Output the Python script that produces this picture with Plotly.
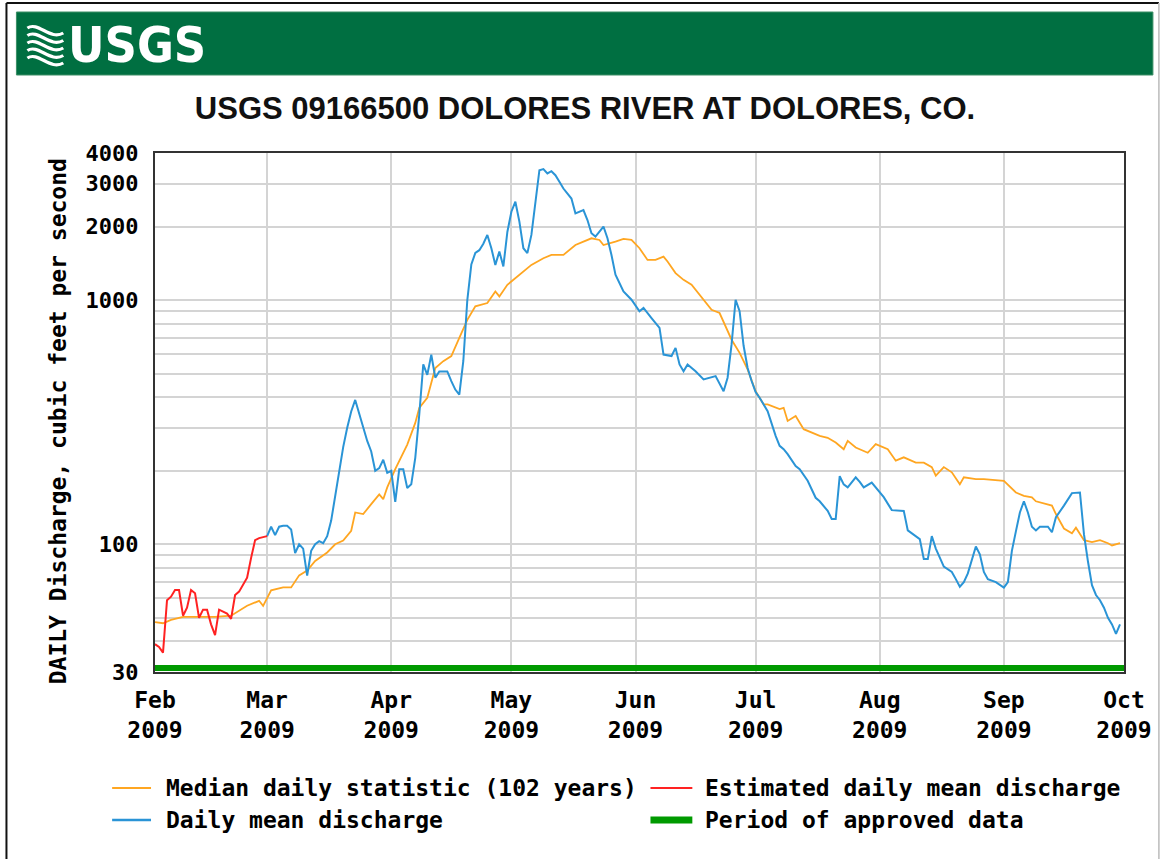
import plotly.graph_objects as go

# ---------------- data ----------------
median_dates = ["2009-02-01","2009-02-03","2009-02-05","2009-02-08","2009-02-11","2009-02-16","2009-02-20",
    "2009-02-24","2009-02-27","2009-02-28","2009-03-02","2009-03-05","2009-03-07","2009-03-09","2009-03-11",
    "2009-03-13","2009-03-16","2009-03-18","2009-03-20","2009-03-22","2009-03-23","2009-03-25","2009-03-27",
    "2009-03-29","2009-03-30","2009-03-31","2009-04-02","2009-04-04","2009-04-05","2009-04-07","2009-04-08",
    "2009-04-10","2009-04-12","2009-04-14","2009-04-16","2009-04-18","2009-04-20","2009-04-22","2009-04-25",
    "2009-04-27","2009-04-28","2009-04-30","2009-05-03","2009-05-06","2009-05-09","2009-05-11","2009-05-14",
    "2009-05-17","2009-05-19","2009-05-21","2009-05-23","2009-05-24","2009-05-27","2009-05-29","2009-05-31",
    "2009-06-02","2009-06-04","2009-06-06","2009-06-08","2009-06-09","2009-06-11","2009-06-13","2009-06-15",
    "2009-06-17","2009-06-20","2009-06-22","2009-06-23","2009-06-25","2009-06-27","2009-06-29","2009-07-01",
    "2009-07-03","2009-07-04","2009-07-07","2009-07-08","2009-07-09","2009-07-11","2009-07-13","2009-07-17",
    "2009-07-19","2009-07-21","2009-07-23","2009-07-24","2009-07-26","2009-07-29","2009-07-31","2009-08-03",
    "2009-08-05","2009-08-07","2009-08-10","2009-08-12","2009-08-14","2009-08-15","2009-08-17","2009-08-19",
    "2009-08-21","2009-08-22","2009-08-25","2009-08-27","2009-09-01","2009-09-04","2009-09-06","2009-09-08",
    "2009-09-09","2009-09-13","2009-09-14","2009-09-16","2009-09-18","2009-09-19","2009-09-21","2009-09-23",
    "2009-09-25","2009-09-27","2009-09-28","2009-09-30"]
median_vals = [48,47.5,49,50.4,50.4,50.4,51,
    56,58.7,56,64.8,66.6,66.6,74.6,78,
    85.5,92.6,100,103.5,113.6,135,133,146,
    160,153,171,203,237,256,314,362,
    398,527,562,590,700,830,942,972,
    1085,1035,1155,1270,1393,1483,1530,1530,
    1680,1735,1790,1762,1680,1735,1780,1762,
    1630,1460,1460,1506,1438,1289,1210,1155,
    1051,913,885,818,688,608,520,423,
    374,374,358,362,320,335,296,278,
    273,261,245,265,249,237,257,245,
    220,227,216,216,207,191,207,197,
    176,188,185,185,182,163,158,155.6,
    150,144,133,116,111,117,104,102,
    104,101,98.9,101]

daily_dates = ["2009-03-01","2009-03-02","2009-03-03","2009-03-04","2009-03-05","2009-03-06","2009-03-07",
    "2009-03-08","2009-03-09","2009-03-10","2009-03-11","2009-03-12","2009-03-13","2009-03-14","2009-03-15",
    "2009-03-16","2009-03-17","2009-03-18","2009-03-19","2009-03-20","2009-03-21","2009-03-22","2009-03-23",
    "2009-03-24","2009-03-25","2009-03-26","2009-03-27","2009-03-28","2009-03-29","2009-03-30","2009-03-31",
    "2009-04-01","2009-04-02","2009-04-03","2009-04-04","2009-04-05","2009-04-06","2009-04-07","2009-04-08",
    "2009-04-09","2009-04-10","2009-04-11","2009-04-12","2009-04-13","2009-04-14","2009-04-15","2009-04-16",
    "2009-04-17","2009-04-18","2009-04-19","2009-04-20","2009-04-21","2009-04-22","2009-04-23","2009-04-24",
    "2009-04-25","2009-04-26","2009-04-27","2009-04-28","2009-04-29","2009-04-30","2009-05-01","2009-05-02",
    "2009-05-03","2009-05-04","2009-05-05","2009-05-06","2009-05-07","2009-05-08","2009-05-09","2009-05-10",
    "2009-05-11","2009-05-12","2009-05-13","2009-05-14","2009-05-16","2009-05-17","2009-05-19","2009-05-20",
    "2009-05-21","2009-05-22","2009-05-24","2009-05-25","2009-05-26","2009-05-27","2009-05-29","2009-05-31",
    "2009-06-02","2009-06-03","2009-06-05","2009-06-07","2009-06-08","2009-06-10","2009-06-11","2009-06-12",
    "2009-06-13","2009-06-14","2009-06-16","2009-06-18","2009-06-21","2009-06-23","2009-06-24","2009-06-25",
    "2009-06-26","2009-06-27","2009-06-28","2009-06-29","2009-06-30","2009-07-01","2009-07-02","2009-07-04",
    "2009-07-06","2009-07-07","2009-07-08","2009-07-09","2009-07-11","2009-07-12","2009-07-14","2009-07-16",
    "2009-07-17","2009-07-19","2009-07-20","2009-07-21","2009-07-22","2009-07-23","2009-07-24","2009-07-26",
    "2009-07-27","2009-07-28","2009-07-30","2009-07-31","2009-08-02","2009-08-04","2009-08-07","2009-08-08",
    "2009-08-11","2009-08-12","2009-08-13","2009-08-14","2009-08-15","2009-08-17","2009-08-19","2009-08-20",
    "2009-08-21","2009-08-22","2009-08-23","2009-08-25","2009-08-26","2009-08-27","2009-08-28","2009-08-30",
    "2009-09-01","2009-09-02","2009-09-03","2009-09-04","2009-09-05","2009-09-06","2009-09-07","2009-09-08",
    "2009-09-09","2009-09-10","2009-09-12","2009-09-13","2009-09-14","2009-09-16","2009-09-18","2009-09-20",
    "2009-09-21","2009-09-22","2009-09-23","2009-09-24","2009-09-25","2009-09-26","2009-09-27","2009-09-28",
    "2009-09-29","2009-09-30"]
daily_vals = [108,118,109,118,119,119,115,
    92,100,96,74.5,94,100,103,101,
    108,125,160,200,250,300,350,390,
    340,300,265,240,200,205,222,196,
    200,149,203,203,170,176,226,340,
    545,494,597,481,510,510,510,466,
    430,410,563,1000,1400,1560,1600,1700,
    1848,1630,1393,1580,1373,1900,2300,2528,
    2095,1630,1556,1848,2528,3400,3437,3300,
    3370,3245,3050,2862,2605,2265,2335,2127,
    1877,1820,2000,1790,1530,1270,1085,1003,
    900,928,844,769,598,590,637,545,
    511,545,511,473,488,423,481,660,
    1003,900,650,527,466,420,398,351,
    278,253,245,234,209,203,182,155,
    150,137,127,127,190,176,171,188,
    180,171,179,171,156,138,137,114,
    105,87,87,108,96,81,77,72,
    67,70,76,98,91,77,72,70,
    66.5,70,94,113,135,150,135,118,
    114,118,118,112,129,144,162,163,
    110,85,68,62,59,55,50,47,
    43,47]

estimated_dates = ["2009-02-01","2009-02-02","2009-02-03","2009-02-04","2009-02-05","2009-02-06","2009-02-07",
    "2009-02-08","2009-02-09","2009-02-10","2009-02-11","2009-02-12","2009-02-13","2009-02-14","2009-02-15",
    "2009-02-16","2009-02-17","2009-02-18","2009-02-19","2009-02-20","2009-02-21","2009-02-22","2009-02-23",
    "2009-02-24","2009-02-25","2009-02-26","2009-02-27","2009-02-28","2009-03-01"]
estimated_vals = [39,38,36,59,61,65,65,
    51,55,65,63,50,54,54,47,
    42.5,54,53,52,49.5,62,64,68,
    73,88,104,106,107,108]

approved_period = ["2009-02-01", "2009-10-01"]

month_ticks = ["2009-02-01","2009-03-01","2009-04-01","2009-05-01","2009-06-01",
               "2009-07-01","2009-08-01","2009-09-01","2009-10-01"]
month_labels = ["Feb<br>2009","Mar<br>2009","Apr<br>2009","May<br>2009","Jun<br>2009",
                "Jul<br>2009","Aug<br>2009","Sep<br>2009","Oct<br>2009"]

y_grid = [30,40,50,60,70,80,90,100,200,300,400,500,600,700,800,900,1000,2000,3000,4000]
y_labeled = {30:"30",100:"100",1000:"1000",2000:"2000",3000:"3000",4000:"4000"}

legend_names = ["Median daily statistic (102 years)", "Estimated daily mean discharge",
                "Daily mean discharge", "Period of approved data"]

# ---------------- style ----------------
W, H = 1164, 859
L, R, T, B = 155, 37, 153, 187
PW, PH = W - L - R, H - T - B
ORANGE, BLUE, RED, GREEN = "#FFA621", "#2A94D6", "#FF2222", "#009A00"
MONO = "DejaVu Sans Mono"
SANS = "Liberation Sans, Arial, sans-serif"
COND = "DejaVu Sans Condensed, Liberation Sans Narrow, sans-serif"

def px(x):
    return (x - L) / PW

def py(y):
    return (H - B - y) / PH

fig = go.Figure()
fig.add_trace(go.Scatter(x=median_dates, y=median_vals, mode="lines",
                         line=dict(color=ORANGE, width=1.8), name=legend_names[0], showlegend=False))
fig.add_trace(go.Scatter(x=daily_dates, y=daily_vals, mode="lines",
                         line=dict(color=BLUE, width=2), name=legend_names[2], showlegend=False))
fig.add_trace(go.Scatter(x=estimated_dates, y=estimated_vals, mode="lines",
                         line=dict(color=RED, width=2), name=legend_names[1], showlegend=False))

shapes = []
# approved period bar along bottom of plot
shapes.append(dict(type="rect", xref="x", yref="paper", x0=approved_period[0], x1=approved_period[1],
                   y0=py(671), y1=py(665), fillcolor=GREEN, line=dict(width=0), layer="above"))
# page frame
shapes.append(dict(type="line", xref="paper", yref="paper", x0=px(6), x1=px(6), y0=py(3), y1=py(870),
                   line=dict(color="#111", width=2)))
shapes.append(dict(type="line", xref="paper", yref="paper", x0=px(6), x1=px(1162), y0=py(3), y1=py(3),
                   line=dict(color="#111", width=2)))
shapes.append(dict(type="line", xref="paper", yref="paper", x0=px(1162), x1=px(1162), y0=py(3), y1=py(870),
                   line=dict(color="#bbbbbb", width=1.5)))
# banner
shapes.append(dict(type="rect", xref="paper", yref="paper", x0=px(16), x1=px(1156), y0=py(75), y1=py(12),
                   fillcolor="#006F41", line=dict(color="#3c8f66", width=1)))
# logo waves
for i in range(5):
    y0 = 28 + i * 7.5
    pts = [(27, y0), (38, y0 - 7), (50, y0 + 13), (63, y0 + 5)]
    p = "M {},{} C {},{} {},{} {},{}".format(px(pts[0][0]), py(pts[0][1]), px(pts[1][0]), py(pts[1][1]),
                                            px(pts[2][0]), py(pts[2][1]), px(pts[3][0]), py(pts[3][1]))
    shapes.append(dict(type="path", xref="paper", yref="paper", path=p,
                       line=dict(color="white", width=3.2)))

# legend (manual)
leg_rows = [788, 820]
leg_cols = [(112, 151, 164), (652, 694, 705)]
leg_items = [(legend_names[0], ORANGE, 2, 0, 0), (legend_names[1], RED, 2, 0, 1),
             (legend_names[2], BLUE, 2.5, 1, 0), (legend_names[3], GREEN, 7, 1, 1)]
annotations = []
for name, col, wdt, r, c in leg_items:
    x0, x1, tx = leg_cols[c]
    yy = leg_rows[r]
    shapes.append(dict(type="line", xref="paper", yref="paper", x0=px(x0), x1=px(x1), y0=py(yy), y1=py(yy),
                       line=dict(color=col, width=wdt)))
    annotations.append(dict(text=name, xref="paper", yref="paper", x=px(tx), y=py(yy), xanchor="left",
                            yanchor="middle", showarrow=False,
                            font=dict(family=MONO, size=23, color="#000", weight="bold")))

annotations.append(dict(text="USGS", xref="paper", yref="paper", x=px(66), y=py(45), xanchor="left",
                        yanchor="middle", showarrow=False,
                        font=dict(family=COND, size=50, color="white", weight="bold")))
annotations.append(dict(text="DAILY Discharge, cubic feet per second", xref="paper", yref="paper",
                        x=px(58), y=py(421), xanchor="center", yanchor="middle", textangle=-90,
                        showarrow=False, font=dict(family=MONO, size=23, color="#000", weight="bold")))

fig.update_layout(
    width=W, height=H, margin=dict(l=L, r=R, t=T, b=B),
    paper_bgcolor="white", plot_bgcolor="white",
    title=dict(text="USGS 09166500 DOLORES RIVER AT DOLORES, CO.", x=585 / W, xref="container",
               xanchor="center", y=1 - 108 / H, yref="container", yanchor="middle",
               font=dict(family=SANS, size=31, color="#111", weight="bold")),
    shapes=shapes, annotations=annotations, showlegend=False,
)
fig.update_xaxes(type="date", range=[month_ticks[0], month_ticks[-1]], tickvals=month_ticks,
                 ticktext=month_labels, showgrid=True, gridcolor="#d4d4d4", gridwidth=1.5,
                 showline=True, linecolor="#333", linewidth=2, mirror=True, ticks="",
                 ticklabelstandoff=6,
                 tickfont=dict(family=MONO, size=23, color="#000", weight="bold"), zeroline=False)
fig.update_yaxes(type="log", range=[1.4771, 3.6021], tickvals=y_grid,
                 ticktext=[y_labeled.get(v, "") for v in y_grid], showgrid=True, gridcolor="#d4d4d4",
                 gridwidth=1.5, showline=True, linecolor="#333", linewidth=2, mirror=True, ticks="",
                 ticklabelstandoff=10,
                 tickfont=dict(family=MONO, size=22, color="#000", weight="bold"))

fig.write_html("out.html", config={"displayModeBar": False},
               post_script="document.body.style.margin='0';document.body.style.overflow='hidden';")
